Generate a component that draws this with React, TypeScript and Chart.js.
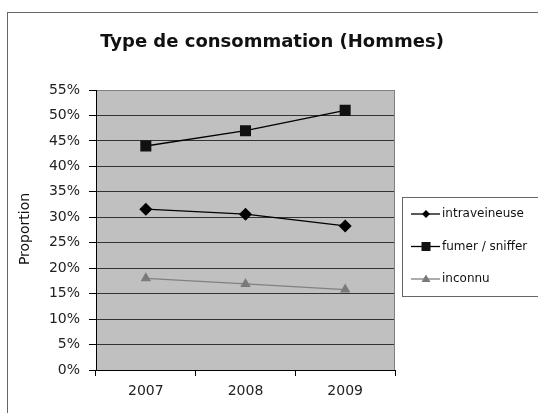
import React, { useEffect, useRef } from "react";
import { Chart, registerables } from "chart.js";

Chart.register(...registerables);

const years = ["2007", "2008", "2009"];
const intraveineuse = [31.6, 30.6, 28.3];
const fumerSniffer = [44.0, 47.0, 51.0];
const inconnu = [18.0, 16.9, 15.8];
const yMin = 0;
const yMax = 55;
const yStep = 5;
const titleText = "Type de consommation (Hommes)";
const yAxisTitle = "Proportion";
const seriesNames = ["intraveineuse", "fumer / sniffer", "inconnu"];

const FONT = "'DejaVu Sans', sans-serif";

const decorPlugin = {
  id: "decor",
  beforeDraw(chart: any) {
    const { ctx, chartArea, width, height } = chart;
    ctx.save();
    ctx.fillStyle = "#ffffff";
    ctx.fillRect(0, 0, width, height);
    // outer frame
    ctx.strokeStyle = "#666666";
    ctx.lineWidth = 1;
    ctx.strokeRect(7.5, 12.5, width + 10, height + 10);
    // plot background
    ctx.fillStyle = "#c0c0c0";
    ctx.fillRect(chartArea.left, chartArea.top, chartArea.right - chartArea.left, chartArea.bottom - chartArea.top);
    ctx.restore();
  },
  beforeDatasetsDraw(chart: any) {
    const { ctx, chartArea } = chart;
    ctx.save();
    ctx.strokeStyle = "#808080";
    ctx.lineWidth = 1;
    ctx.beginPath();
    ctx.moveTo(chartArea.right - 0.5, chartArea.top);
    ctx.lineTo(chartArea.right - 0.5, chartArea.bottom);
    ctx.stroke();
    ctx.restore();
  },
  afterDraw(chart: any) {
    const { ctx } = chart;
    ctx.save();
    // title
    ctx.fillStyle = "#111111";
    ctx.font = `bold 18px ${FONT}`;
    ctx.textAlign = "center";
    ctx.textBaseline = "alphabetic";
    ctx.fillText(titleText, 272, 47);
    // y axis title
    ctx.save();
    ctx.translate(29, 229);
    ctx.rotate(-Math.PI / 2);
    ctx.font = `14px ${FONT}`;
    ctx.textAlign = "center";
    ctx.textBaseline = "alphabetic";
    ctx.fillText(yAxisTitle, 0, 0);
    ctx.restore();
    // legend box
    ctx.strokeStyle = "#666666";
    ctx.lineWidth = 1;
    ctx.strokeRect(402.5, 197.5, 150, 99);
    const rowsY = [214, 246.5, 279];
    const datasets = chart.data.datasets;
    rowsY.forEach((y, i) => {
      const ds = datasets[i];
      ctx.strokeStyle = ds.borderColor;
      ctx.lineWidth = 1.3;
      ctx.beginPath();
      ctx.moveTo(411, y);
      ctx.lineTo(440, y);
      ctx.stroke();
      ctx.fillStyle = ds.pointBackgroundColor;
      ctx.beginPath();
      if (ds.pointStyle === "rectRot") {
        const s = 4;
        ctx.moveTo(426 - s, y);
        ctx.lineTo(426, y - s);
        ctx.lineTo(426 + s, y);
        ctx.lineTo(426, y + s);
        ctx.closePath();
      } else if (ds.pointStyle === "rect") {
        ctx.rect(426 - 4.5, y - 4.5, 9, 9);
      } else {
        ctx.moveTo(426, y - 4.5);
        ctx.lineTo(426 + 4.5, y + 3);
        ctx.lineTo(426 - 4.5, y + 3);
        ctx.closePath();
      }
      ctx.fill();
      ctx.fillStyle = "#111111";
      ctx.font = `12px ${FONT}`;
      ctx.textAlign = "left";
      ctx.textBaseline = "middle";
      ctx.fillText(seriesNames[i], 442, y);
    });
    ctx.restore();
  },
};

export default function App() {
  const ref = useRef<HTMLCanvasElement | null>(null);
  useEffect(() => {
    if (!ref.current) return;
    const chart = new Chart(ref.current, {
      type: "line",
      data: {
        labels: years,
        datasets: [
          {
            label: seriesNames[0],
            data: intraveineuse,
            borderColor: "#000000",
            backgroundColor: "#000000",
            pointBackgroundColor: "#000000",
            pointBorderColor: "#000000",
            borderWidth: 1.3,
            pointStyle: "rectRot",
            pointRadius: 6.5,
            pointBorderWidth: 0,
            tension: 0,
          },
          {
            label: seriesNames[1],
            data: fumerSniffer,
            borderColor: "#000000",
            backgroundColor: "#111111",
            pointBackgroundColor: "#111111",
            pointBorderColor: "#111111",
            borderWidth: 1.3,
            pointStyle: "rect",
            pointRadius: 7.8,
            pointBorderWidth: 0,
            tension: 0,
          },
          {
            label: seriesNames[2],
            data: inconnu,
            borderColor: "#808080",
            backgroundColor: "#7a7a7a",
            pointBackgroundColor: "#7a7a7a",
            pointBorderColor: "#7a7a7a",
            borderWidth: 1.3,
            pointStyle: "triangle",
            pointRadius: 6,
            pointBorderWidth: 0,
            tension: 0,
          },
        ],
      } as any,
      options: {
        animation: false,
        responsive: false,
        devicePixelRatio: 1,
        layout: { padding: { top: 90, right: 143, bottom: 0, left: 0 } },
        plugins: {
          legend: { display: false },
          title: { display: false },
          tooltip: { enabled: false },
        },
        scales: {
          x: {
            type: "category",
            offset: true,
            grid: {
              offset: true,
              drawOnChartArea: false,
              drawTicks: true,
              tickLength: 6,
              color: "#000000",
              tickColor: "#000000",
            },
            border: { display: true, color: "#000000", width: 1 },
            ticks: {
              font: { family: FONT, size: 14 },
              color: "#222222",
              padding: 7,
              maxRotation: 0,
            },
            afterFit(scale: any) {
              scale.height = 43;
            },
          },
          y: {
            min: yMin,
            max: yMax,
            grid: {
              color: (c: any) => (c.tick && c.tick.value === yMax ? "#808080" : "#333333"),
              tickColor: "#000000",
              tickLength: 7,
              lineWidth: 1,
            },
            border: { display: true, color: "#000000", width: 1 },
            ticks: {
              stepSize: yStep,
              font: { family: FONT, size: 14 },
              color: "#222222",
              padding: 9,
              callback: (v: any) => `${v}%`,
            },
            afterFit(scale: any) {
              scale.width = 96;
            },
          },
        },
      } as any,
      plugins: [decorPlugin],
    });
    return () => chart.destroy();
  }, []);
  return (
    <div style={{ position: "fixed", left: 0, top: 0, width: 538, height: 413, background: "#fff" }}>
      <canvas ref={ref} width={538} height={413} style={{ display: "block", width: 538, height: 413 }} />
    </div>
  );
}
